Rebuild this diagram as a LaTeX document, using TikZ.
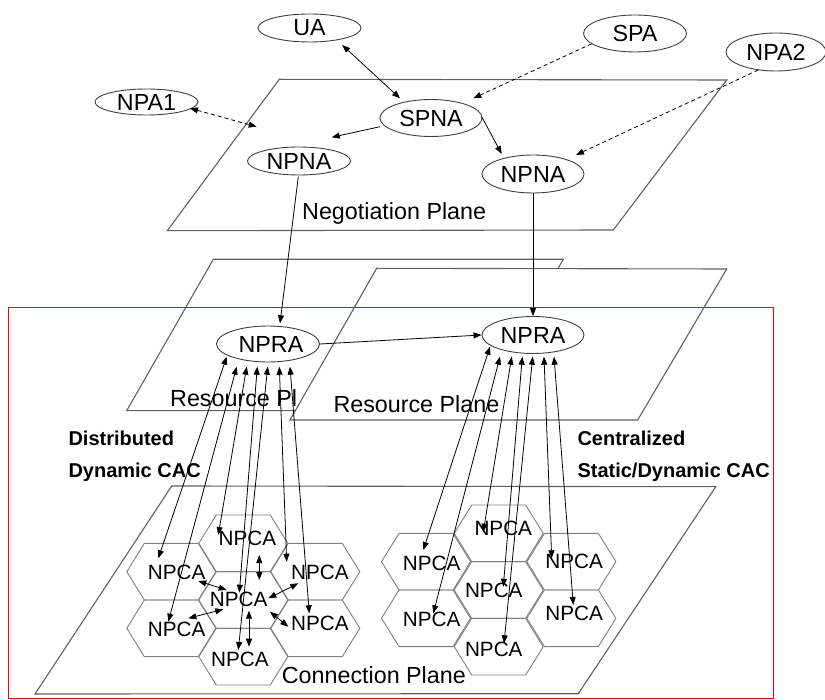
\documentclass[tikz,border=0pt]{standalone}
\usepackage{fontspec}
\setmainfont{Liberation Sans}
\usetikzlibrary{shapes.geometric,arrows.meta,calc}
\newcommand{\hexcell}[2]{\draw[hexline,shift={(#1,#2)}] (-44.5,0) -- (-27,-28.3) -- (27,-28.3) -- (44.5,0) -- (27,28.3) -- (-27,28.3) -- cycle;}
\begin{document}
\begin{tikzpicture}[x=1pt,y=-1pt,
  agent/.style={ellipse,draw=black!75,line width=0.9pt,fill=white,inner sep=0pt,font=\fontsize{23.3}{26}\selectfont},
  cell/.style={inner sep=0pt,font=\fontsize{20.7}{24}\selectfont},
  plane/.style={draw=black!62,line width=1.1pt},
  planelabel/.style={anchor=base west,inner sep=0pt,font=\fontsize{23.3}{26}\selectfont},
  caclabel/.style={anchor=base west,inner sep=0pt,font=\bfseries\fontsize{20}{24}\selectfont},
  hexline/.style={draw=black!50,line width=0.9pt},
  link/.style={draw=black,line width=0.8pt,-{Triangle[length=8pt,width=6pt]}},
  dlink/.style={draw=black,line width=0.8pt,{Triangle[length=8pt,width=6pt]}-{Triangle[length=8pt,width=6pt]}},
  dashedlink/.style={link,dash pattern=on 4pt off 3pt},
  ddashedlink/.style={dlink,dash pattern=on 4pt off 3pt},
]
\useasboundingbox (0,0) rectangle (825,700);

% planes
\draw[plane] (279.3,79.3) -- (726.7,80) -- (613.3,230) -- (167.3,230.7) -- cycle;
\node[planelabel] (negl) at (302,220) {Negotiation Plane};

\draw[plane] (213.3,259.3) -- (563.3,259.3) -- (476.5,410.7) -- (126.7,410.7) -- cycle;
\node[planelabel] (res1l) at (170,407) {Resource Pl};
\draw[plane,fill=white] (376.7,268.3) -- (726.7,269) -- (637.7,420) -- (290,420) -- cycle;
\node[planelabel] (res2l) at (333.3,412.5) {Resource Plane};

\draw[plane] (171.7,486) -- (715.7,486.7) -- (578.3,693.7) -- (35,694) -- cycle;
\node[planelabel] (conl) at (281.7,683) {Connection Plane};

\draw[red,line width=1pt] (8,307.3) rectangle (773.3,698.3);

\node[caclabel] (d1) at (68.3,446) {Distributed};
\node[caclabel] (d2) at (68.3,478) {Dynamic CAC};
\node[caclabel] (c1) at (577.3,446) {Centralized};
\node[caclabel] (c2) at (577.3,478) {Static/Dynamic CAC};

% hex cells left
\hexcell{243.3}{543.3}
\hexcell{171.3}{571.7}
\hexcell{315.3}{571.7}
\hexcell{243.3}{600}
\hexcell{171.3}{628.3}
\hexcell{315.3}{628.3}
\hexcell{243.3}{656.7}
% hex cells right
\hexcell{498.7}{533.3}
\hexcell{426}{561.7}
\hexcell{571.4}{561.7}
\hexcell{498.7}{590}
\hexcell{426}{618.3}
\hexcell{571.4}{618.3}
\hexcell{498.7}{646.7}

% agents
\node[agent,minimum width=103pt,minimum height=28pt] (ua) at (309.5,28) {UA};
\node[agent,minimum width=103pt,minimum height=26pt] (npa1) at (146.5,102) {NPA1};
\node[agent,minimum width=102pt,minimum height=37pt] (spna) at (431,118) {SPNA};
\node[agent,minimum width=103pt,minimum height=37pt] (spa) at (635,33.5) {SPA};
\node[agent,minimum width=100pt,minimum height=38pt] (npa2) at (776,52) {NPA2};
\node[agent,minimum width=103pt,minimum height=28pt] (lnpna) at (299,161) {NPNA};
\node[agent,minimum width=102pt,minimum height=38pt] (rnpna) at (533,174) {NPNA};
\node[agent,minimum width=103pt,minimum height=36pt] (lnpra) at (268,344) {\hspace*{6pt}NPRA};
\node[agent,minimum width=102pt,minimum height=37pt] (rnpra) at (533,335) {NPRA};

% NPCA cells left
\node[cell] (lt)  at (247.5,538.8) {NPCA};
\node[cell] (ltl) at (176.7,572.7) {NPCA};
\node[cell] (ltr) at (320,572.7) {NPCA};
\node[cell] (lc)  at (238.7,599.7) {NPCA};
\node[cell] (lbl) at (176.7,629.3) {NPCA};
\node[cell] (lbr) at (320,623.3) {NPCA};
\node[cell] (lb)  at (240,659.7) {NPCA};
% NPCA cells right
\node[cell] (rt)  at (503.3,528.3) {NPCA};
\node[cell] (rtl) at (431.7,563.3) {NPCA};
\node[cell] (rtr) at (574.2,561.7) {NPCA};
\node[cell] (rc)  at (493.8,590.7) {NPCA};
\node[cell] (rbl) at (431.7,619.7) {NPCA};
\node[cell] (rbr) at (574.2,613) {NPCA};
\node[cell] (rb)  at (493.8,649.7) {NPCA};

% negotiation connectors
\draw[dlink] ($(ua)+(32.7,17)$) -- ($(spna)+(-31,-19.7)$);
\draw[dashedlink] ($(spa)+(-43.3,10.3)$) -- ($(spna)+(42.3,-19.7)$);
\draw[dashedlink] ($(npa2)+(-17.7,18)$) -- ($(rnpna)+(43,-19)$);
\draw[ddashedlink] ($(npa1)+(43.5,6.3)$) -- ($(lnpna)+(-42.3,-34.3)$);
\draw[link] ($(spna)+(-51,8.7)$) -- ($(lnpna)+(32.7,-23.7)$);
\draw[link] ($(spna)+(50.7,-1.3)$) -- ($(rnpna)+(-31.3,-20)$);
\draw[link] ($(lnpna)+(-0.7,15.7)$) -- ($(lnpra)+(12,-20.7)$);
\draw[link] (rnpna.south) -- (rnpra.north);
\draw[link] (lnpra.east) -- (rnpra.west);

% left NPRA to left cells
\draw[dlink] ($(lnpra)+(-41.3,12.7)$) -- ($(ltl)+(-18.4,-14.4)$);
\draw[dlink] ($(lnpra)+(-31.3,22.7)$) -- ($(lbl)+(-8.4,-7.6)$);
\draw[dlink] ($(lnpra)+(-21.3,22.7)$) -- ($(lt)+(-29.2,-3.8)$);
\draw[dlink] ($(lnpra)+(-10.7,22.7)$) -- ($(lc)+(0.6,-7)$);
\draw[dlink] ($(lnpra)+(-0.3,22.7)$) -- ($(lb)+(-1.7,-9.7)$);
\draw[dlink] ($(lnpra)+(11.3,22.7)$) -- ($(ltr)+(-33.3,-11)$);
\draw[dlink] ($(lnpra)+(22,22.7)$) -- ($(lbr)+(-10.7,-10)$);

% right NPRA to right cells
\draw[dlink] ($(rnpra)+(-43,11.7)$) -- ($(rtl)+(-8.4,-13.3)$);
\draw[dlink] ($(rnpra)+(-33,21.7)$) -- ($(rbl)+(1.6,-6.4)$);
\draw[dlink] ($(rnpra)+(-21.3,21.7)$) -- ($(rt)+(-20,3.4)$);
\draw[dlink] ($(rnpra)+(-10.7,21.7)$) -- ($(rc)+(9.5,-4)$);
\draw[dlink] ($(rnpra)+(-0.3,21.7)$) -- ($(rb)+(10.2,-6.4)$);
\draw[dlink] ($(rnpra)+(11,21.7)$) -- ($(rtr)+(-22.5,-3.4)$);
\draw[dlink] ($(rnpra)+(21,21.7)$) -- ($(rbr)+(-0.9,-8)$);

% inter-cell links (left cluster)
\draw[dlink] ($(lt)+(11.8,16.2)$) -- ($(lc)+(20.6,-19.7)$);
\draw[dlink] ($(ltl)+(21.6,8.3)$) -- ($(lc)+(-12,-9.7)$);
\draw[dlink] ($(ltr)+(-21.7,10.6)$) -- ($(lc)+(29.6,-1.4)$);
\draw[dlink] ($(lc)+(-15.4,9.6)$) -- ($(lbl)+(11.6,-11)$);
\draw[dlink] ($(lc)+(31.3,12)$) -- ($(lbr)+(-31.7,3.4)$);
\draw[dlink] ($(lc)+(10.3,11)$) -- ($(lb)+(9,-13)$);
\end{tikzpicture}
\end{document}
